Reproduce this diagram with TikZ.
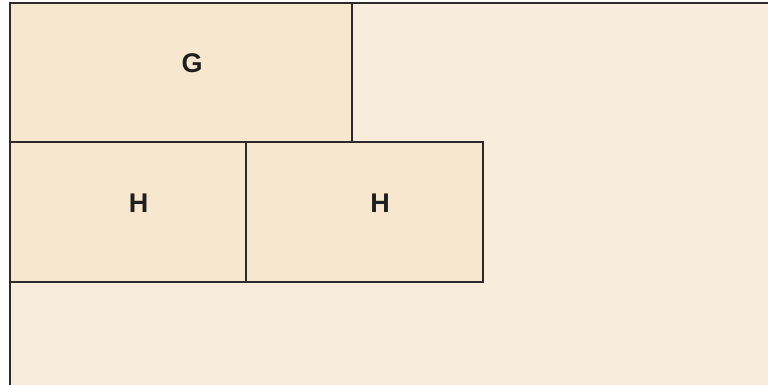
\documentclass[tikz,border=0pt]{standalone}
\usepackage{fontspec}
\setmainfont{Liberation Sans}
\definecolor{outerfill}{HTML}{F8ECDD}
\definecolor{boxfill}{HTML}{F6E7CE}
\definecolor{edge}{HTML}{2E2A2A}
\begin{document}
\begin{tikzpicture}[x=1pt,y=-1pt,
  boxnode/.style={draw=edge,line width=1.5pt,fill=boxfill,inner sep=0pt},
  lbl/.style={inner sep=0pt,font=\bfseries\fontsize{27}{31}\selectfont,text=black!88}]
\useasboundingbox (0,0) rectangle (768,385);
\fill[white] (0,0) rectangle (768,385);
\fill[outerfill] (10,3) rectangle (770,390);
\draw[edge,line width=2pt] (10,390) -- (10,3) -- (770,3);
\node[boxnode,minimum width=342pt,minimum height=139pt] (g) at (181,72.5) {};
\node[boxnode,minimum width=236pt,minimum height=140pt] (h1) at (128,212) {};
\node[boxnode,minimum width=237pt,minimum height=140pt] (h2) at (364.5,212) {};
\node[lbl] (gt) at (192,63) {G};
\node[lbl] (h1t) at (138.5,203.3) {H};
\node[lbl] (h2t) at (380,203.3) {H};
\end{tikzpicture}
\end{document}
